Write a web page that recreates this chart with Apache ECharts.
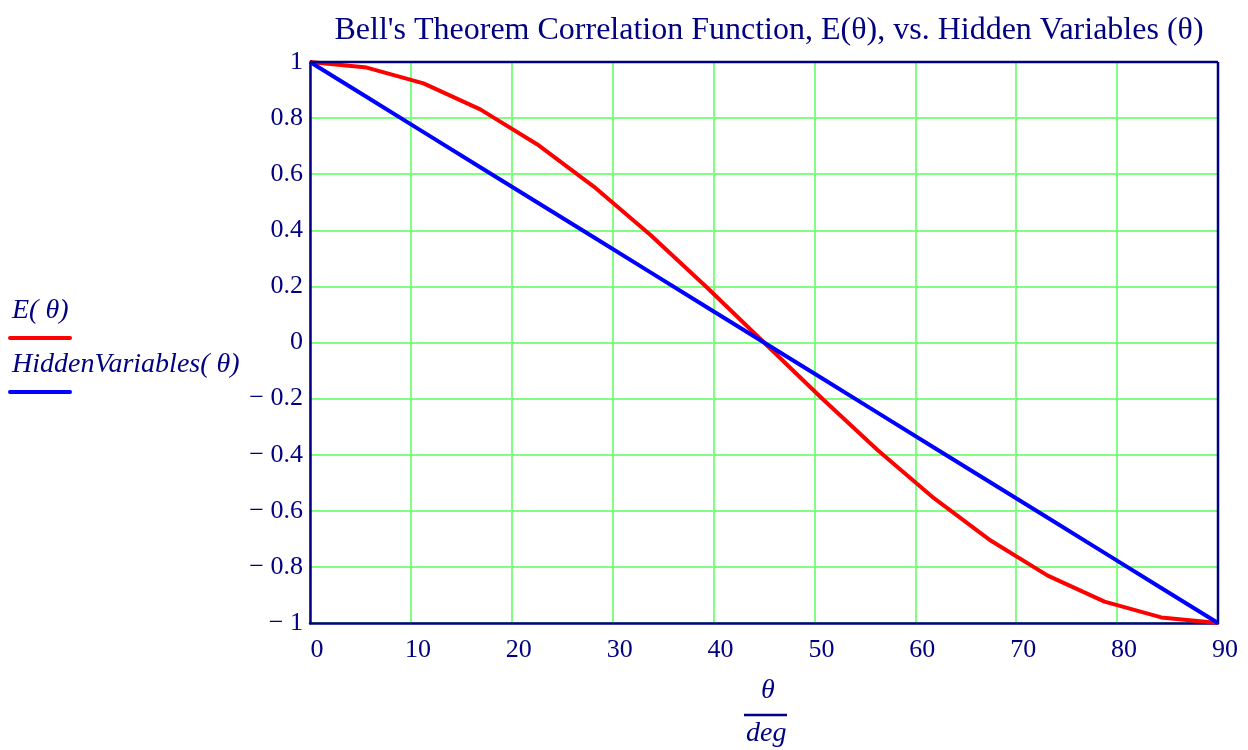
<!DOCTYPE html>
<html>
<head>
<meta charset="utf-8">
<script src="https://cdn.jsdelivr.net/npm/echarts@6/dist/echarts.min.js"></script>
<style>
  html, body { margin: 0; padding: 0; background: #fff; }
  #chart { width: 1248px; height: 750px; }
</style>
</head>
<body>
<div id="chart"></div>
<script>
// theta samples (degrees) and the values
const theta = [0, 5.625, 11.25, 16.875, 22.5, 28.125, 33.75, 39.375, 45,
               50.625, 56.25, 61.875, 67.5, 73.125, 78.75, 84.375, 90];
const eValues = [1, 0.98, 0.924, 0.831, 0.707, 0.556, 0.383, 0.195, 0,
                 -0.195, -0.383, -0.556, -0.707, -0.831, -0.924, -0.98, -1];
const hiddenValues = [1, 0.875, 0.75, 0.625, 0.5, 0.375, 0.25, 0.125, 0,
                      -0.125, -0.25, -0.375, -0.5, -0.625, -0.75, -0.875, -1];

const navy = '#000080';
const gridGreen = '#80ff80';
const serif = '"Liberation Serif", "DejaVu Serif", serif';

const chart = echarts.init(document.getElementById('chart'));

const fmtY = v => {
  const r = Math.round(v * 10) / 10;
  if (r === 0) return '0';
  return r < 0 ? '\u2212 ' + String(Math.abs(r)) : String(r);
};

const option = {
  animation: false,
  title: {
    text: "Bell's Theorem Correlation Function, E(\u03b8), vs. Hidden Variables (\u03b8)",
    left: 764, top: 10, textAlign: 'center',
    textStyle: { fontFamily: serif, fontSize: 32, fontWeight: 'normal', color: navy }
  },
  grid: { left: 310, right: 30, top: 62, bottom: 127 },
  xAxis: {
    type: 'value', min: 0, max: 90, interval: 10,
    axisLine: { show: true, onZero: false, lineStyle: { color: navy, width: 2.5 } },
    axisTick: { show: false },
    axisLabel: { color: navy, fontFamily: serif, fontSize: 26, margin: 14,
                 padding: [0, 0, 0, 14] },
    splitLine: { show: true, lineStyle: { color: gridGreen, width: 2 } }
  },
  yAxis: {
    type: 'value', min: -1, max: 1, interval: 0.2,
    axisLine: { show: true, onZero: false, lineStyle: { color: navy, width: 2.5 } },
    axisTick: { show: false },
    axisLabel: { color: navy, fontFamily: serif, fontSize: 26, margin: 7,
                 padding: [6, 0, 0, 0], formatter: fmtY },
    splitLine: { show: true, lineStyle: { color: gridGreen, width: 2 } }
  },
  series: [
    {
      name: 'E', type: 'line', showSymbol: false, z: 3,
      lineStyle: { color: '#ff0000', width: 4 },
      data: theta.map((t, i) => [t, eValues[i]])
    },
    {
      name: 'HiddenVariables', type: 'line', showSymbol: false, z: 4,
      lineStyle: { color: '#0000ff', width: 4 },
      data: theta.map((t, i) => [t, hiddenValues[i]])
    }
  ],
  graphic: [
    // frame top and right
    { type: 'line', z: 100, shape: { x1: 310, y1: 62, x2: 1218, y2: 62 }, style: { stroke: navy, lineWidth: 2.5 } },
    { type: 'line', z: 100, shape: { x1: 1218, y1: 62, x2: 1218, y2: 623 }, style: { stroke: navy, lineWidth: 2.5 } },
    // legend on the left
    { type: 'text', left: 12, top: 297,
      style: { text: 'E( \u03b8)', fill: navy, font: 'italic 28px ' + serif } },
    { type: 'line', shape: { x1: 10, y1: 338, x2: 70, y2: 338 },
      style: { stroke: '#ff0000', lineWidth: 4, lineCap: 'round' } },
    { type: 'text', left: 12, top: 351,
      style: { text: 'HiddenVariables( \u03b8)', fill: navy, font: 'italic 28px ' + serif } },
    { type: 'line', shape: { x1: 10, y1: 392, x2: 70, y2: 392 },
      style: { stroke: '#0000ff', lineWidth: 4, lineCap: 'round' } },
    // x axis name: theta / deg
    { type: 'text', left: 761, top: 677,
      style: { text: '\u03b8', fill: navy, font: 'italic 28px ' + serif } },
    { type: 'line', shape: { x1: 744, y1: 715, x2: 787, y2: 715 },
      style: { stroke: navy, lineWidth: 2.5 } },
    { type: 'text', left: 746, top: 720,
      style: { text: 'deg', fill: navy, font: 'italic 28px ' + serif } }
  ]
};

chart.setOption(option);
</script>
</body>
</html>
